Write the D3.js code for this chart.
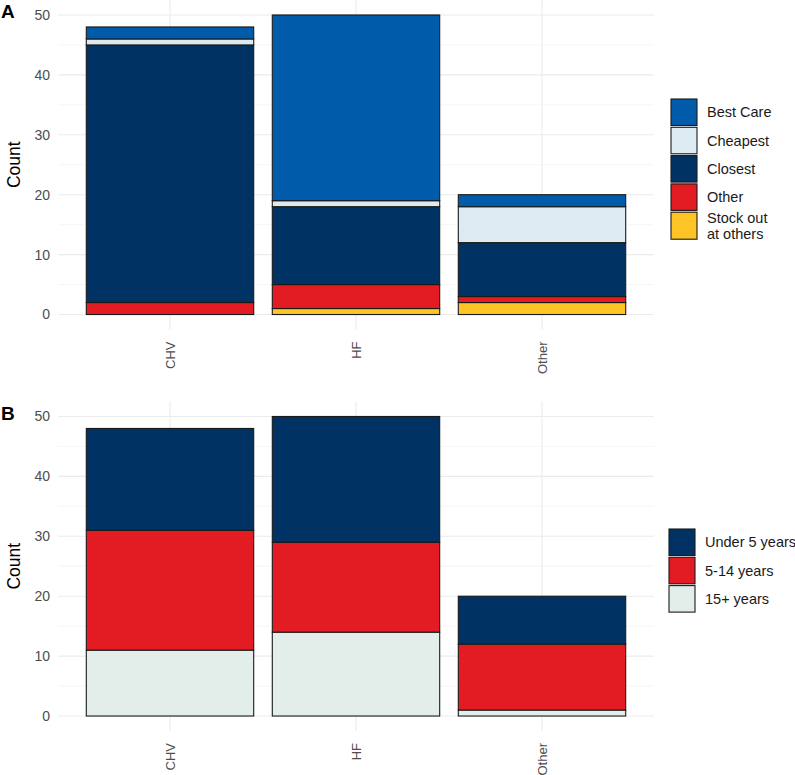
<!DOCTYPE html>
<html><head><meta charset="utf-8">
<script src="https://cdn.jsdelivr.net/npm/d3@7"></script>
<style>body{margin:0;background:#fff}svg{display:block;font-family:"Liberation Sans",Arial,sans-serif}</style>
</head><body><svg id="c" width="795" height="775"></svg>
<script>
const categories = ["CHV", "HF", "Other"];
const yTicks = [0, 10, 20, 30, 40, 50];
// Panel A: reasons (stack order bottom -> top)
const reasonKeys = ["Stock out at others", "Other", "Closest", "Cheapest", "Best Care"];
const stockOut = [0, 1, 2];
const otherReason = [2, 4, 1];
const closest = [43, 13, 9];
const cheapest = [1, 1, 6];
const bestCare = [2, 31, 2];
const reasonLegend = ["Best Care", "Cheapest", "Closest", "Other", "Stock out at others"];
const reasonColors = {"Best Care":"#005bab","Cheapest":"#dcebf2","Closest":"#003263","Other":"#e31c24","Stock out at others":"#fec425"};
// Panel B: age groups (stack order bottom -> top)
const ageKeys = ["15+ years", "5-14 years", "Under 5 years"];
const age15plus = [11, 14, 1];
const age5to14 = [20, 15, 11];
const ageUnder5 = [17, 21, 8];
const ageLegend = ["Under 5 years", "5-14 years", "15+ years"];
const ageColors = {"Under 5 years":"#003263","5-14 years":"#e31c24","15+ years":"#e3eeea"};

const svg = d3.select("#c");
const X0 = 58.4, X1 = 653.6;

function panel(cfg) {
  const g = svg.append("g");
  const x = d3.scaleBand().domain(categories).range([X0, X1]).paddingInner(0.1).paddingOuter(0.15);
  const y = d3.scaleLinear().domain([-2.5, 52.5]).range([cfg.bottom, cfg.top]);
  const minor = [5, 15, 25, 35, 45];
  g.selectAll(".mn").data(minor).enter().append("line")
    .attr("x1", X0).attr("x2", X1).attr("y1", d => y(d)).attr("y2", d => y(d))
    .attr("stroke", "#f0f0f0").attr("stroke-width", 0.6);
  g.selectAll(".mj").data(yTicks).enter().append("line")
    .attr("x1", X0).attr("x2", X1).attr("y1", d => y(d)).attr("y2", d => y(d))
    .attr("stroke", "#ebebeb").attr("stroke-width", 1.1);
  g.selectAll(".vx").data(categories).enter().append("line")
    .attr("x1", d => x(d) + x.bandwidth()/2).attr("x2", d => x(d) + x.bandwidth()/2)
    .attr("y1", cfg.top).attr("y2", cfg.bottom)
    .attr("stroke", "#ebebeb").attr("stroke-width", 1.1);
  const rows = categories.map((c, i) => {
    const o = {cat: c};
    cfg.keys.forEach((k, j) => o[k] = cfg.series[j][i]);
    return o;
  });
  const stacked = d3.stack().keys(cfg.keys)(rows);
  stacked.forEach(layer => {
    g.selectAll(null).data(layer.filter(d => d[1] - d[0] > 0)).enter().append("rect")
      .attr("x", d => x(d.data.cat))
      .attr("width", x.bandwidth())
      .attr("y", d => y(d[1]))
      .attr("height", d => y(d[0]) - y(d[1]))
      .attr("fill", cfg.colors[layer.key])
      .attr("stroke", "#1a1a1a").attr("stroke-width", 1.1);
  });
  g.selectAll(".yl").data(yTicks).enter().append("text")
    .attr("x", 50).attr("y", d => y(d)).attr("dy", "0.35em")
    .attr("text-anchor", "end").attr("font-size", 14).attr("fill", "#4d4d4d")
    .text(d => d);
  g.selectAll(".xl").data(categories).enter().append("text")
    .attr("transform", d => `translate(${x(d) + x.bandwidth()/2 + 4.8},${cfg.bottom + 12}) rotate(-90)`)
    .attr("text-anchor", "end").attr("font-size", 13).attr("fill", "#4d4d4d")
    .text(d => d);
  const cy = (y(0) + y(50)) / 2;
  g.append("text").attr("transform", `translate(20,${cy}) rotate(-90)`)
    .attr("text-anchor", "middle").attr("font-size", 17.5).attr("fill", "#000").text("Count");
  g.append("text").attr("x", 1).attr("y", cfg.top + 18).attr("font-size", 19).attr("font-weight", "bold")
    .attr("fill", "#000").text(cfg.tag);
  const lg = g.append("g");
  let yy = cfg.legY;
  cfg.legend.forEach(k => {
    const lines = cfg.wrap[k] || [k];
    const h = lines.length > 1 ? 27 : 26.5;
    lg.append("rect").attr("x", cfg.legX).attr("y", yy).attr("width", 26).attr("height", h)
      .attr("fill", cfg.colors[k]).attr("stroke", "#1a1a1a").attr("stroke-width", 1.1);
    const t = lg.append("text").attr("x", cfg.legX + 36).attr("font-size", 14.5).attr("fill", "#1a1a1a");
    if (lines.length === 1) {
      t.attr("y", yy + h/2).attr("dy", "0.35em").text(k);
    } else {
      lines.forEach((ln, li) => t.append("tspan").attr("x", cfg.legX + 36)
        .attr("y", yy + h/2 + (li - (lines.length-1)/2) * 16).attr("dy", "0.35em").text(ln));
    }
    yy += h + 1.8;
  });
}

panel({tag: "A", top: 0, bottom: 329.5, keys: reasonKeys,
  series: [stockOut, otherReason, closest, cheapest, bestCare],
  colors: reasonColors, legend: reasonLegend, legX: 671, legY: 99,
  wrap: {"Stock out at others": ["Stock out", "at others"]}});
panel({tag: "B", top: 401.5, bottom: 731, keys: ageKeys,
  series: [age15plus, age5to14, ageUnder5],
  colors: ageColors, legend: ageLegend, legX: 669, legY: 529, wrap: {}});
</script></body></html>
